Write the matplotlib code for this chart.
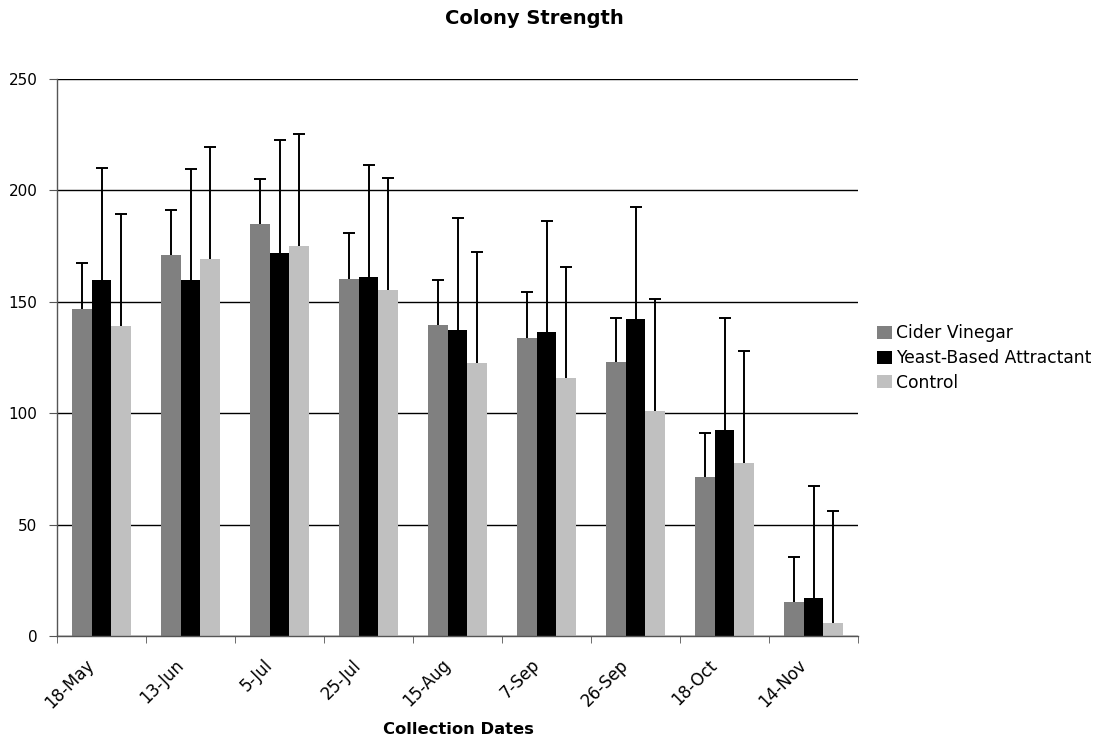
import matplotlib
matplotlib.use("Agg")
import matplotlib.pyplot as plt
import matplotlib.transforms as mtransforms
import numpy as np

dates = ["18-May", "13-Jun", "5-Jul", "25-Jul", "15-Aug", "7-Sep", "26-Sep", "18-Oct", "14-Nov"]
series = ["Cider Vinegar", "Yeast-Based Attractant", "Control"]

cider = [146.8, 171.1, 185.0, 160.3, 139.7, 133.8, 123.0, 71.4, 15.3]
yeast = [159.9, 159.9, 172.0, 161.2, 137.4, 136.5, 142.3, 92.5, 17.1]
control = [139.2, 169.3, 175.1, 155.4, 122.6, 115.8, 101.0, 77.7, 5.8]

# upper error bar lengths
cider_err = [20.4, 19.9, 20.1, 20.4, 19.9, 20.4, 19.9, 19.9, 20.2]
yeast_err = [50.1, 49.9, 50.4, 50.4, 50.1, 49.8, 50.3, 50.3, 50.3]
control_err = [50.3, 50.3, 50.3, 50.3, 49.8, 50.0, 50.3, 50.0, 50.3]

colors = ["#808080", "#000000", "#c0c0c0"]

plt.rcParams['font.family'] = ['DejaVu Sans']

fig = plt.figure(figsize=(11.01, 7.42), dpi=100)
ax = fig.add_axes([57/1101, 1 - 636/742, (858-57)/1101, (636-79)/742])

x = np.arange(len(dates))
w = 1 / 4.5
vals = [cider, yeast, control]
errs = [cider_err, yeast_err, control_err]
for i in range(3):
    pos = x + (i - 1) * w
    ax.bar(pos, vals[i], width=w, color=colors[i], label=series[i], zorder=2)
    eb = ax.errorbar(pos, vals[i], yerr=[np.zeros(len(dates)), errs[i]], fmt='none',
                     ecolor='black', elinewidth=1.4, capsize=4.3, capthick=1.4, zorder=3)
    # only the upper cap, like Excel "plus" error bars
    eb[1][0].set_visible(False)

ax.set_xlim(-0.5, len(dates) - 0.5)
ax.set_ylim(0, 250)
ax.set_yticks(range(0, 251, 50))
ax.yaxis.grid(True, color='black', linewidth=1, zorder=0)
ax.set_axisbelow(True)

ax.set_xticks(x)
ax.set_xticklabels(dates, rotation=45, ha='right', va='center', rotation_mode='anchor', fontsize=12)
ax.set_xticks(np.arange(-0.5, len(dates), 1), minor=True)
ax.tick_params(axis='x', which='major', length=0, pad=19)
ax.tick_params(axis='x', which='minor', length=5, color='#555555')
ax.tick_params(axis='y', length=6, labelsize=11, color='#555555', pad=8)
shift = mtransforms.ScaledTranslation(-10/100, 0, fig.dpi_scale_trans)
for lbl in ax.get_xticklabels():
    lbl.set_transform(lbl.get_transform() + shift)

for s in ['top', 'right']:
    ax.spines[s].set_visible(False)
for s in ['left', 'bottom']:
    ax.spines[s].set_color('#555555')
    ax.spines[s].set_linewidth(1)

fig.text(534/1101, 1 - 18/742, "Colony Strength", ha='center', va='center',
         fontsize=14, fontweight='bold')
fig.text(458/1101, 1 - 729/742, "Collection Dates", ha='center', va='center',
         fontsize=11.8, fontweight='bold')

fig.legend(loc='center left', bbox_to_anchor=(877/1101, 1 - 358/742), frameon=False,
           fontsize=12.3, handlelength=0.85, handleheight=0.8, handletextpad=0.25,
           labelspacing=0.4, borderaxespad=0, borderpad=0)

fig.savefig("out.png", dpi=100)
